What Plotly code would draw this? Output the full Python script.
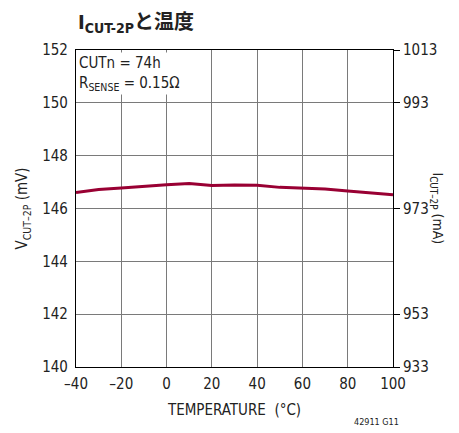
import plotly.graph_objects as go

temps = [-40, -30, -20, -10, 0, 10, 20, 30, 40, 50, 60, 70, 80, 90, 100]
v_cut = [146.61, 146.72, 146.78, 146.85, 146.90, 146.95, 146.87, 146.89, 146.88, 146.80, 146.78, 146.74, 146.66, 146.58, 146.52]

x_ticks = [-40, -20, 0, 20, 40, 60, 80, 100]
x_ticktext = ["–40", "–20", "0", "20", "40", "60", "80", "100"]
y_ticks = [140, 142, 144, 146, 148, 150, 152]
y2_tickvals = [140, 142, 146, 150, 152]
y2_ticktext = ["933", "953", "973", "993", "1013"]

FONT = "DejaVu Sans Condensed, Liberation Sans Narrow, Noto Sans CJK JP, sans-serif"

fig = go.Figure()
fig.add_trace(go.Scatter(x=temps, y=v_cut, mode="lines",
                         line=dict(color="#990033", width=3),
                         showlegend=False, hoverinfo="skip"))
fig.add_trace(go.Scatter(x=temps, y=v_cut, mode="lines", yaxis="y2",
                         line=dict(color="rgba(0,0,0,0)", width=0),
                         showlegend=False, hoverinfo="skip"))

fig.update_layout(
    width=459, height=433,
    margin=dict(l=68, r=74, t=42, b=74),
    paper_bgcolor="white", plot_bgcolor="white",
    font=dict(family=FONT, size=15, color="#222"),
    xaxis=dict(range=[-40, 100], tickvals=x_ticks, ticktext=x_ticktext,
               showgrid=True, gridcolor="#7a7a7a", gridwidth=1,
               showline=True, linecolor="black", linewidth=1.2, mirror=True,
               ticks="", zeroline=False, automargin=False, ticklabelstandoff=3,
               title=dict(text="TEMPERATURE  (°C)", font=dict(size=15), standoff=12)),
    yaxis=dict(range=[140, 152], tickvals=y_ticks,
               showgrid=True, gridcolor="#7a7a7a", gridwidth=1,
               showline=True, linecolor="black", linewidth=1.2, mirror=True,
               ticks="", zeroline=False, automargin=False, ticklabelstandoff=4,
               title=dict(text="V<sub>CUT–2P</sub> (mV)", font=dict(size=15), standoff=10)),
    yaxis2=dict(range=[140, 152], overlaying="y", side="right",
                tickvals=y2_tickvals, ticktext=y2_ticktext,
                ticks="outside", ticklen=6, tickcolor="black", automargin=False,
                showgrid=False, zeroline=False, showline=False),
)

fig.add_annotation(xref="paper", yref="paper", x=0.0, y=1.085, xanchor="left", yanchor="middle",
                   text="<b>I<sub>CUT-2P</sub>と温度</b>", showarrow=False,
                   font=dict(size=20, color="#222", family=FONT))
fig.add_annotation(xref="paper", yref="paper", x=0.003, y=0.995, xanchor="left", yanchor="top",
                   text="CUTn = 74h<br>R<sub>SENSE</sub> = 0.15Ω", showarrow=False, align="left",
                   bgcolor="white", borderpad=1,
                   font=dict(size=15, color="#222", family=FONT))
fig.add_annotation(xref="paper", yref="paper", x=1.139, y=0.5, xanchor="center", yanchor="middle",
                   text="I<sub>CUT–2P</sub> (mA)", textangle=90, showarrow=False,
                   font=dict(size=14, color="#222", family=FONT))
fig.add_annotation(xref="paper", yref="paper", x=1.025, y=-0.173, xanchor="right", yanchor="middle",
                   text="42911 G11", showarrow=False,
                   font=dict(size=9, color="#222", family=FONT))

fig.write_html("out.html")
